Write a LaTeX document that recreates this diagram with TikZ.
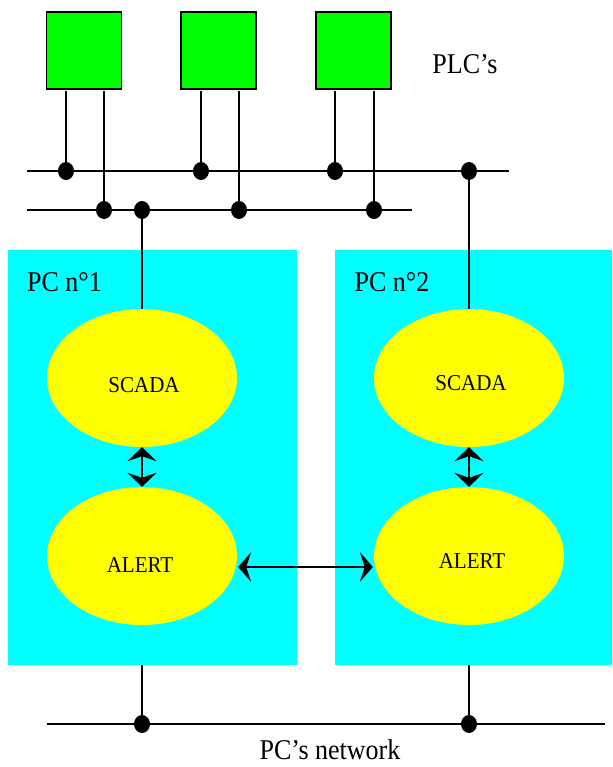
\documentclass[tikz,border=0pt]{standalone}
\usepackage{fontspec}
\usepackage{graphicx}
\setmainfont{Liberation Serif}
\usetikzlibrary{shapes.geometric,arrows.meta,calc}
\definecolor{plcgreen}{HTML}{00FF00}
\definecolor{pccyan}{HTML}{00FFFF}
\definecolor{elyellow}{HTML}{FFFF00}
\tikzset{
  plcbox/.style={draw=black, line width=1.6pt, fill=plcgreen, minimum width=75pt, minimum height=77pt, inner sep=0pt},
  pcbox/.style={fill=pccyan, draw=none, inner sep=0pt},
  proc/.style={ellipse, fill=elyellow, draw=none, minimum width=190pt, minimum height=138pt, inner sep=0pt},
  junction/.style={ellipse, fill=black, draw=none, minimum width=16pt, minimum height=18pt, inner sep=0pt},
  wire/.style={line width=1.6pt, black},
  link/.style={line width=1.6pt, black, {Stealth[length=14pt,width=29pt,inset=5pt]}-{Stealth[length=14pt,width=29pt,inset=5pt]}},
  biglabel/.style={inner sep=0pt, font=\fontsize{26}{28}\selectfont},
  smalllabel/.style={inner sep=0pt, font=\fontsize{21}{23}\selectfont}
}
\begin{document}
\begin{tikzpicture}[x=1pt, y=-1pt]
\useasboundingbox (0,0) rectangle (612,767);
% PC boxes
\node[pcbox, minimum width=289pt, minimum height=415pt] (pc1) at (152.5,457.5) {};
\node[pcbox, minimum width=277pt, minimum height=415pt] (pc2) at (473.5,457.5) {};
% PLCs
\node[plcbox] (plc1) at (84,50.5) {};
\node[plcbox] (plc2) at (218.5,50.5) {};
\node[plcbox] (plc3) at (353.5,50.5) {};
\node[biglabel] (plclabel) at (465,64) {\scalebox{1}[1.1]{PLC’s}};
% buses
\coordinate (b1l) at (27,171);
\coordinate (b1r) at (509,171);
\coordinate (b2l) at (27,210);
\coordinate (b2r) at (412,210);
\draw[wire] (b1l) -- (b1r);
\draw[wire] (b2l) -- (b2r);
% drops from PLCs
\coordinate (p1a) at (66,91);  \coordinate (p1b) at (104,91);
\coordinate (p2a) at (201,91); \coordinate (p2b) at (239,91);
\coordinate (p3a) at (335,91); \coordinate (p3b) at (374,91);
\draw[wire] (p1a) -- (p1a |- b1l);
\draw[wire] (p1b) -- (p1b |- b2l);
\draw[wire] (p2a) -- (p2a |- b1l);
\draw[wire] (p2b) -- (p2b |- b2l);
\draw[wire] (p3a) -- (p3a |- b1l);
\draw[wire] (p3b) -- (p3b |- b2l);
% ellipses
\node[proc] (scada1) at (142,378) {};
\node[proc] (scada2) at (469,378) {};
\node[proc] (alert1) at (142,556) {};
\node[proc] (alert2) at (469,556) {};
\node[smalllabel] (t1) at (144,385) {\scalebox{1}[1.08]{SCADA}};
\node[smalllabel] (t2) at (471,383) {\scalebox{1}[1.08]{SCADA}};
\node[smalllabel] (t3) at (140,565) {\scalebox{1}[1.08]{ALERT}};
\node[smalllabel] (t4) at (472,561) {\scalebox{1}[1.08]{ALERT}};
\node[biglabel] (pc1label) at (64.5,282) {\scalebox{1}[1.1]{PC n°1}};
\node[biglabel] (pc2label) at (392,282) {\scalebox{1}[1.1]{PC n°2}};
% connections to SCADA
\draw[wire] (scada1.north) -- (scada1.north |- b2l);
\draw[wire] (scada2.north) -- (scada2.north |- b1l);
% junction dots
\node[junction] (j11) at (66,171) {};
\node[junction] (j12) at (201,171) {};
\node[junction] (j13) at (335,171) {};
\node[junction] (j14) at (469,171) {};
\node[junction] (j21) at (104,210) {};
\node[junction] (j22) at (142,210) {};
\node[junction] (j23) at (239,210) {};
\node[junction] (j24) at (374,210) {};
% arrows
\draw[link] (scada1.south) -- (alert1.north);
\draw[link] (scada2.south) -- (alert2.north);
\draw[link, {Stealth[length=13pt,width=30pt,inset=5pt]}-{Stealth[length=13pt,width=30pt,inset=5pt]}] ($(alert1.east)+(1,11)$) -- ($(alert2.west)+(-1,11)$);
% PC network
\coordinate (nl) at (47,724);
\coordinate (nr) at (605,724);
\draw[wire] (nl) -- (nr);
\node[junction] (n1) at (142,724) {};
\node[junction] (n2) at (469,724) {};
\draw[wire] (n1) -- (n1 |- pc1.south);
\draw[wire] (n2) -- (n2 |- pc2.south);
\node[biglabel] (netlabel) at (330,750) {\scalebox{1}[1.1]{PC’s network}};
\end{tikzpicture}
\end{document}
